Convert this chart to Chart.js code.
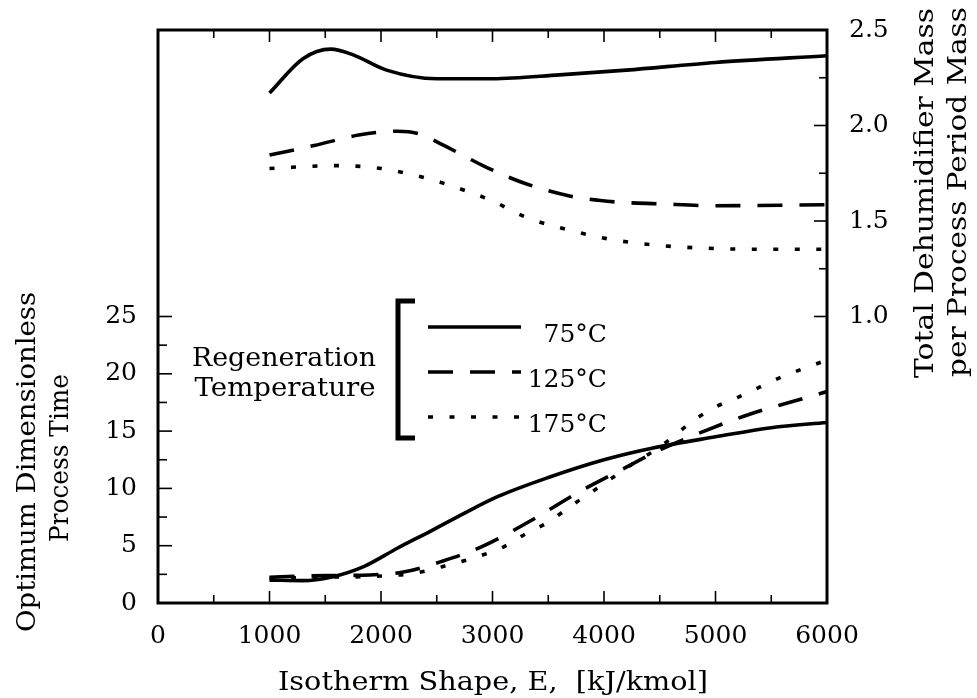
<!doctype html>
<html>
<head>
<meta charset="utf-8">
<title>isotherm shape chart</title>
<script src="https://cdn.jsdelivr.net/npm/chart.js@4/dist/chart.umd.min.js"></script>
<style>
  html, body { margin: 0; padding: 0; background: #fff; }
  #wrap { width: 977px; height: 698px; }
</style>
</head>
<body>
<div id="wrap"><canvas id="c" width="977" height="698"></canvas></div>
<script>
// top curves: total dehumidifier mass / process period mass (right axis)
var massE75  = [1000, 1300, 1550, 1750, 2050, 2500, 3000, 3600, 4200, 5000, 6000];
var mass75   = [2.17, 2.35, 2.40, 2.37, 2.29, 2.245, 2.245, 2.265, 2.29, 2.33, 2.365];
var massE125 = [1000, 1400, 1800, 2150, 2350, 2550, 2950, 3300, 3700, 4100, 4500, 5000, 6000];
var mass125  = [1.845, 1.895, 1.95, 1.97, 1.955, 1.90, 1.78, 1.695, 1.63, 1.60, 1.59, 1.58, 1.585];
var massE175 = [1000, 1600, 2000, 2400, 2800, 3000, 3300, 3700, 4100, 4500, 4900, 5400, 6000];
var mass175  = [1.775, 1.79, 1.775, 1.725, 1.65, 1.605, 1.52, 1.45, 1.40, 1.372, 1.358, 1.352, 1.352];

// bottom curves: optimum dimensionless process time (left axis)
var timeE75  = [1000, 1300, 1550, 1850, 2150, 2450, 2750, 3050, 3500, 4000, 4450, 5000, 5500, 6000];
var time75   = [2.0, 1.95, 2.25, 3.2, 4.8, 6.3, 7.85, 9.3, 10.95, 12.5, 13.55, 14.5, 15.3, 15.75];
var timeE125 = [1000, 1300, 1600, 1900, 2200, 2550, 2900, 3400, 3750, 4150, 4500, 4900, 5300, 5700, 6000];
var time125  = [2.25, 2.35, 2.4, 2.45, 2.7, 3.65, 4.9, 7.5, 9.55, 11.6, 13.35, 15.0, 16.45, 17.6, 18.45];
var timeE175 = [1000, 1500, 2000, 2300, 2600, 2900, 3100, 3300, 3500, 3700, 3900, 4100, 4300, 4500, 4800, 5000, 5200, 5400, 5600, 5800, 6000];
var time175  = [2.15, 2.25, 2.35, 2.6, 3.3, 4.15, 4.9, 6.05, 7.05, 8.45, 9.75, 11.1, 12.4, 13.6, 15.9, 17.1, 17.95, 18.85, 19.75, 20.5, 21.2];

var tempLabels = ['75°C', '125°C', '175°C'];
var xTicks = [0, 1000, 2000, 3000, 4000, 5000, 6000];
var leftTicks = [0, 5, 10, 15, 20, 25];
var rightTicks = [1.0, 1.5, 2.0, 2.5];

var FONT = '"DejaVu Serif", "Liberation Serif", serif';
var SOLID = [], DASH = [25, 17], DOT = [5, 16.5];

function pts(xs, ys) {
    return xs.map(function (x, i) { return {x: x, y: ys[i]}; });
}

function curve(label, xs, ys, axis, dash) {
    return {
        label: label,
        data: pts(xs, ys),
        yAxisID: axis,
        borderColor: '#000',
        borderWidth: 3.6,
        borderDash: dash,
        pointRadius: 0,
        fill: false,
        tension: 0.4,
        cubicInterpolationMode: 'monotone'
    };
}

function seg(ctx, x1, y1, x2, y2) {
    ctx.beginPath();
    ctx.moveTo(x1, y1);
    ctx.lineTo(x2, y2);
    ctx.stroke();
}

// text squeezed/stretched to the width it has in the picture
function fitText(ctx, text, x, y, width, size, rot) {
    ctx.save();
    ctx.translate(x, y);
    if (rot) ctx.rotate(rot);
    ctx.font = size + 'px ' + FONT;
    ctx.textAlign = 'center';
    ctx.textBaseline = 'alphabetic';
    var w = ctx.measureText(text).width;
    ctx.scale(width / w, 1);
    ctx.fillText(text, 0, 0);
    ctx.restore();
}

var decorations = {
    id: 'decorations',
    afterDraw: function (chart) {
        var ctx = chart.ctx, a = chart.chartArea, s = chart.scales;
        ctx.save();
        ctx.strokeStyle = '#000';
        ctx.fillStyle = '#000';

        // frame
        ctx.lineWidth = 3;
        ctx.strokeRect(a.left, a.top, a.right - a.left, a.bottom - a.top);

        // inward ticks
        ctx.lineWidth = 1.6;
        for (var v = 500; v < 6000; v += 500) {
            var px = s.x.getPixelForValue(v);
            var len = v % 1000 === 0 ? 12 : 8;
            seg(ctx, px, a.bottom, px, a.bottom - len);
            seg(ctx, px, a.top, px, a.top + len);
        }
        for (var t = 2.5; t <= 25; t += 2.5) {
            var py = s.y.getPixelForValue(t);
            seg(ctx, a.left, py, a.left + (t % 5 === 0 ? 14 : 9), py);
        }
        for (var m = 1.0; m < 2.5; m += 0.25) {
            var py2 = s.y2.getPixelForValue(m);
            seg(ctx, a.right, py2, a.right - (Math.abs(m * 2 - Math.round(m * 2)) < 1e-6 ? 13 : 8), py2);
        }

        // legend
        ctx.lineWidth = 5;
        ctx.beginPath();
        ctx.moveTo(415, 301);
        ctx.lineTo(398, 301);
        ctx.lineTo(398, 438);
        ctx.lineTo(415, 438);
        ctx.stroke();
        var dashes = [SOLID, DASH, DOT];
        var ys = [327, 372, 417];
        ctx.lineWidth = 3.4;
        for (var i = 0; i < 3; i++) {
            ctx.setLineDash(dashes[i]);
            seg(ctx, 428, ys[i], 521, ys[i]);
        }
        ctx.setLineDash([]);
        ctx.font = '25px ' + FONT;
        ctx.textAlign = 'right';
        ctx.textBaseline = 'alphabetic';
        for (var j = 0; j < 3; j++) {
            ctx.fillText(tempLabels[j], 607, ys[j] + 15);
        }
        fitText(ctx, 'Regeneration', 284, 366, 184, 26);
        fitText(ctx, 'Temperature', 285, 396, 181, 26);

        // axis titles
        fitText(ctx, 'Isotherm Shape, E,  [kJ/kmol]', 493, 690, 430, 26);
        fitText(ctx, 'Optimum Dimensionless', 35, 462, 340, 26, -Math.PI / 2);
        fitText(ctx, 'Process Time', 68, 458, 168, 26, -Math.PI / 2);
        fitText(ctx, 'Total Dehumidifier Mass', 933, 193, 370, 26, -Math.PI / 2);
        fitText(ctx, 'per Process Period Mass', 966, 192, 370, 26, -Math.PI / 2);
        ctx.restore();
    }
};

var tickFont = {family: FONT, size: 25};

function noVPad(sc) {
    sc.paddingTop = 0;
    sc.paddingBottom = 0;
}

new Chart(document.getElementById('c'), {
    type: 'line',
    data: {
        datasets: [
            curve('mass 75', massE75, mass75, 'y2', SOLID),
            curve('mass 125', massE125, mass125, 'y2', DASH),
            curve('mass 175', massE175, mass175, 'y2', DOT),
            curve('time 75', timeE75, time75, 'y', SOLID),
            curve('time 125', timeE125, time125, 'y', DASH),
            curve('time 175', timeE175, time175, 'y', DOT)
        ]
    },
    options: {
        responsive: false,
        animation: false,
        events: [],
        layout: {padding: {top: 30, left: 0, right: 0, bottom: 0}},
        plugins: {legend: {display: false}, tooltip: {enabled: false}},
        scales: {
            x: {
                type: 'linear', position: 'bottom', min: 0, max: 6000,
                grid: {display: false, drawTicks: false}, border: {display: false},
                afterBuildTicks: function (sc) { sc.ticks = xTicks.map(function (v) { return {value: v}; }); },
                ticks: {font: tickFont, color: '#000', padding: 18, maxRotation: 0, autoSkip: false,
                        callback: function (v) { return String(v); }},
                afterFit: function (sc) { sc.height = 95; sc.paddingLeft = 0; sc.paddingRight = 0; }
            },
            y: {
                type: 'linear', position: 'left', min: 0, max: 50,
                grid: {display: false, drawTicks: false}, border: {display: false},
                afterBuildTicks: function (sc) { sc.ticks = leftTicks.map(function (v) { return {value: v}; }); },
                ticks: {font: tickFont, color: '#000', padding: 21, autoSkip: false,
                        callback: function (v) { return String(v); }},
                afterFit: function (sc) { sc.width = 158; noVPad(sc); }
            },
            y2: {
                type: 'linear', position: 'right', min: -0.5, max: 2.5,
                grid: {display: false, drawTicks: false}, border: {display: false},
                afterBuildTicks: function (sc) { sc.ticks = rightTicks.map(function (v) { return {value: v}; }); },
                ticks: {font: tickFont, color: '#000', padding: 22, autoSkip: false,
                        callback: function (v) { return v.toFixed(1); }},
                afterFit: function (sc) { sc.width = 150; noVPad(sc); }
            }
        }
    },
    plugins: [decorations]
});
</script>
</body>
</html>
